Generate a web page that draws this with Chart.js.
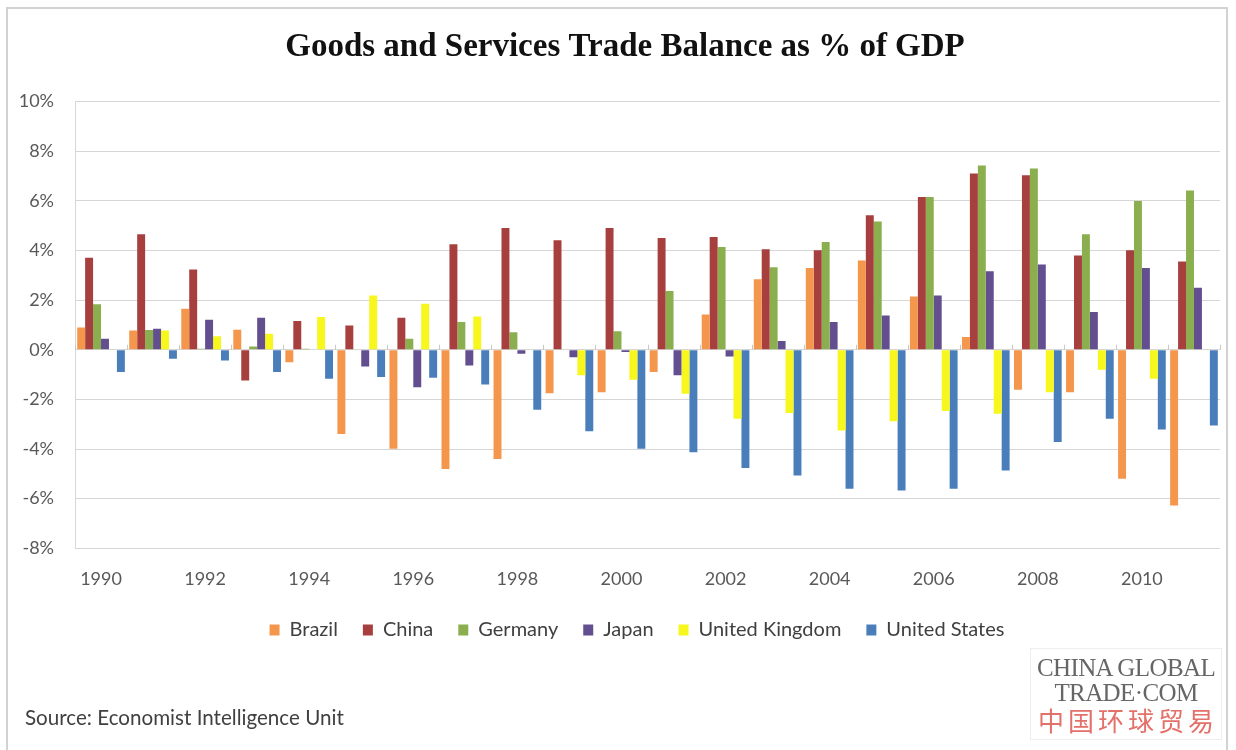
<!DOCTYPE html>
<html>
<head>
<meta charset="utf-8">
<script src="https://cdn.jsdelivr.net/npm/chart.js@4"></script>
<style>
  html, body { margin: 0; padding: 0; background: #fff; }
  #wrap { position: relative; width: 1236px; height: 750px; overflow: hidden; }
  #c { position: absolute; left: 0; top: 0; }
  #frame { position: absolute; left: 6px; top: 7px; width: 1222px; height: 760px;
           border: 2px solid #D2D2D2; box-sizing: border-box; pointer-events: none; }
  #source { position: absolute; left: 25px; top: 705px; font: 20.6px Lato, "Open Sans", sans-serif;
            color: #404040; white-space: nowrap; }
  #logo { position: absolute; left: 1030px; top: 648px; width: 192px; height: 92px;
          border: 1px solid #EEEEEE; box-sizing: border-box; text-align: center; }
  #logo .en { font: 25px "Liberation Serif", serif; color: #666; line-height: 25px; letter-spacing: -0.6px; }
  #logo .zh { font: 26px "Noto Sans CJK SC", sans-serif; color: #E4706A; line-height: 30px;
              letter-spacing: 4px; padding-left: 4px; }
</style>
</head>
<body>
<div id="wrap">
  <canvas id="c" width="1236" height="750"></canvas>
  <div id="frame"></div>
  <div id="source">Source: Economist Intelligence Unit</div>
  <div id="logo">
    <div class="en" style="margin-top:6px">CHINA GLOBAL</div>
    <div class="en">TRADE·COM</div>
    <div class="zh">中国环球贸易</div>
  </div>
</div>
<script>
// Goods and services trade balance, % of GDP, 1990-2011
const years = ['1990','1991','1992','1993','1994','1995','1996','1997','1998','1999','2000',
               '2001','2002','2003','2004','2005','2006','2007','2008','2009','2010','2011'];

const brazil  = [0.90, 0.78, 1.65, 0.81, -0.50, -3.39, -3.99, -4.80, -4.40, -1.75, -1.71,
                 -0.90, 1.42, 2.84, 3.29, 3.60, 2.15, 0.51, -1.61, -1.71, -5.20, -6.28];
const china   = [3.71, 4.65, 3.23, -1.24, 1.16, 0.98, 1.29, 4.25, 4.91, 4.41, 4.91,
                 4.50, 4.54, 4.05, 4.01, 5.42, 6.16, 7.10, 7.03, 3.80, 4.01, 3.56];
const germany = [1.83, 0.80, 0.04, 0.13, 0.04, 0.02, 0.44, 1.12, 0.71, 0.02, 0.75,
                 2.37, 4.14, 3.33, 4.34, 5.17, 6.16, 7.43, 7.30, 4.65, 5.99, 6.42];
const japan   = [0.44, 0.85, 1.21, 1.29, 0.00, -0.67, -1.51, -0.63, -0.16, -0.30, -0.09,
                 -1.03, -0.27, 0.35, 1.12, 1.38, 2.19, 3.16, 3.44, 1.52, 3.29, 2.50];
const uk      = [0.00, 0.78, 0.54, 0.65, 1.32, 2.19, 1.85, 1.34, 0.00, -1.03, -1.21,
                 -1.77, -2.78, -2.55, -3.25, -2.88, -2.47, -2.58, -1.71, -0.81, -1.17, 0.00];
const us      = [-0.90, -0.36, -0.43, -0.90, -1.17, -1.10, -1.13, -1.40, -2.42, -3.28, -3.99,
                 -4.13, -4.76, -5.07, -5.60, -5.67, -5.60, -4.87, -3.72, -2.78, -3.21, -3.05];

const seriesNames  = ['Brazil', 'China', 'Germany', 'Japan', 'United Kingdom', 'United States'];
const seriesColors = ['#F4964C', '#A63F3E', '#8BAF4F', '#634E8F', '#F7F71E', '#4A7EBB'];
const seriesValues = [brazil, china, germany, japan, uk, us];

const yMin = -8, yMax = 10, yStep = 2;

// small tick marks where the category axis crosses zero
const zeroAxisTicks = {
  id: 'zeroAxisTicks',
  beforeDatasetsDraw(chart) {
    const xs = chart.scales.x, ys = chart.scales.y;
    const y0 = ys.getPixelForValue(0);
    const half = (xs.getPixelForValue(1) - xs.getPixelForValue(0)) / 2;
    const ctx = chart.ctx;
    ctx.save();
    ctx.strokeStyle = '#C8C8C8';
    ctx.lineWidth = 1;
    ctx.beginPath();
    for (let i = 0; i <= years.length; i++) {
      const px = Math.round(xs.getPixelForValue(i) - half) + 0.5;
      ctx.moveTo(px, y0 - 5);
      ctx.lineTo(px, y0);
    }
    ctx.stroke();
    ctx.restore();
  }
};

// centre the title and legend rows a little right of the canvas middle
const blockShift = {
  id: 'blockShift',
  afterLayout(chart) {
    const t = chart.titleBlock, lg = chart.legend;
    if (t) { t.left += 15; t.right += 15; }
    if (lg) { lg.left += 27; lg.right += 27; }
  }
};

const legendPad = 25;

new Chart(document.getElementById('c'), {
  type: 'bar',
  data: {
    labels: years,
    datasets: seriesNames.map((name, i) => ({
      label: name,
      data: seriesValues[i],
      backgroundColor: seriesColors[i],
      borderWidth: 0,
      barPercentage: 1.0,
      categoryPercentage: 0.916
    }))
  },
  options: {
    responsive: false,
    animation: false,
    devicePixelRatio: 1,
    layout: { padding: { left: 0, right: 16, top: 0, bottom: 100 } },
    plugins: {
      title: {
        display: true,
        text: 'Goods and Services Trade Balance as % of GDP',
        color: '#111',
        font: { family: '"Liberation Serif", serif', size: 33, weight: 'bold' },
        padding: { top: 28, bottom: 34 }
      },
      legend: {
        position: 'bottom',
        labels: {
          boxWidth: 10,
          boxHeight: 11,
          padding: legendPad,
          color: '#404040',
          font: { family: 'Lato, "Open Sans", sans-serif', size: 20 }
        }
      },
      tooltip: { enabled: false }
    },
    scales: {
      x: {
        grid: { display: false, drawTicks: false },
        border: { display: false },
        ticks: {
          autoSkip: false,
          maxRotation: 0,
          padding: 20,
          color: '#595959',
          font: { family: 'Lato, "Open Sans", sans-serif', size: 18 },
          callback: (v, i) => (i % 2 === 0 ? years[i] : '')
        },
        afterFit: (s) => { s.height = 71.7 - legendPad; }
      },
      y: {
        min: yMin,
        max: yMax,
        ticks: {
          stepSize: yStep,
          padding: 21,
          color: '#595959',
          font: { family: 'Lato, "Open Sans", sans-serif', size: 18 },
          callback: (v) => v + '%'
        },
        grid: { color: '#D6D6D6', lineWidth: 1, drawTicks: false },
        border: { display: true, color: '#D6D6D6', width: 1 },
        afterFit: (s) => { s.width = 75; }
      }
    }
  },
  plugins: [zeroAxisTicks, blockShift]
});
</script>
</body>
</html>
